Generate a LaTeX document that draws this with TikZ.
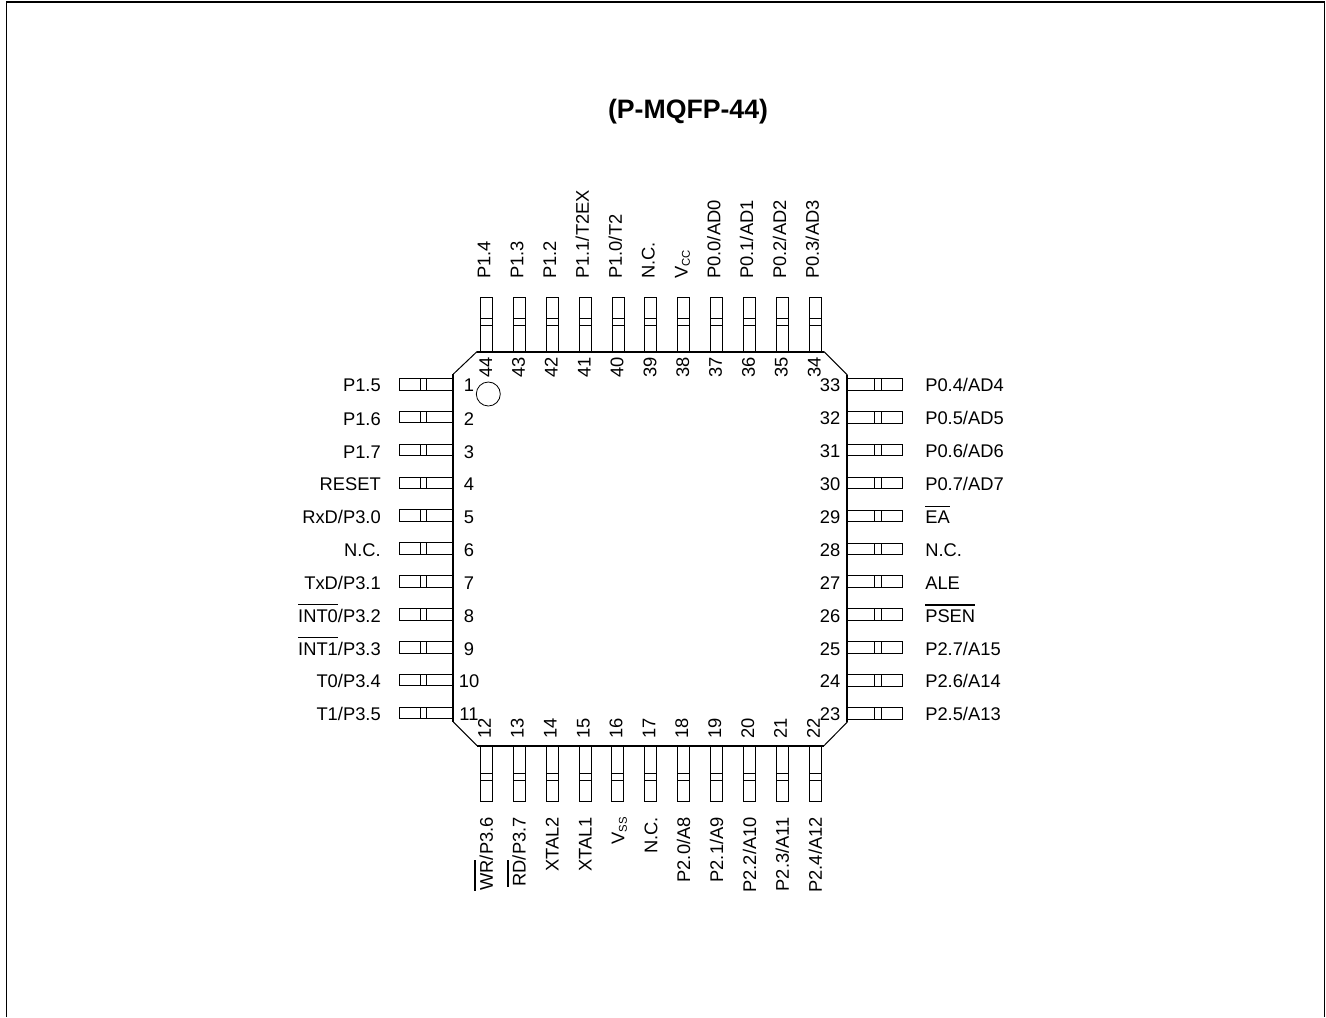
\documentclass[tikz,border=0pt]{standalone}
\usepackage{fontspec}
\setmainfont{Liberation Sans}
\newcommand{\ovl}[1]{\leavevmode\setbox0=\hbox{#1}\rlap{\rule[12.8pt]{\wd0}{1pt}}\box0 }
\newcommand{\subs}[2]{#1\raisebox{-0.25ex}{\fontsize{8.5}{9}\selectfont #2}}
\tikzset{
  pinbox/.style={draw=black,line width=0.75pt},
  body/.style={draw=black,line width=1.6pt},
  chamfer/.style={draw=black,line width=0.75pt},
  lbl/.style={inner sep=0pt,font=\fontsize{13.75}{16}\selectfont},
  numl/.style={lbl,anchor=base},
  leftl/.style={lbl,anchor=base east},
  rightl/.style={lbl,anchor=base west},
  topl/.style={lbl,rotate=90,anchor=base west},
  botl/.style={lbl,rotate=90,anchor=base east},
}
\begin{document}
\begin{tikzpicture}[x=0.75pt,y=-0.75pt]
\useasboundingbox (0,0) rectangle (1326,1017);
% frame
\draw[black,line width=1pt] (6.5,1017) -- (6.5,2) -- (1324.5,2) -- (1324.5,1017);
\node[inner sep=0pt,font=\fontsize{20}{22}\selectfont\bfseries] (title) at (688,112) {(P-MQFP-44)};
% package body
\draw[body] (477,351.6) -- (824,351.6);
\draw[body] (847.3,375) -- (847.3,722);
\draw[body] (824,745.7) -- (477,745.7);
\draw[body] (453.4,722) -- (453.4,374);
\draw[chamfer] (453.4,374) -- (477,351.6);
\draw[chamfer] (824,351.6) -- (847.3,375);
\draw[chamfer] (847.3,722) -- (824,745.7);
\draw[chamfer] (477,745.7) -- (453.4,722);
\node[draw=black,line width=0.6pt,circle,minimum size=18pt,inner sep=0pt] (dot) at (488.3,394) {};
% left side
\foreach \n/\t [count=\i from 0] in {1/P1.5,2/P1.6,3/P1.7,4/RESET,5/RxD\slash P3.0,6/N.C.,7/TxD\slash P3.1,8/\ovl{INT0}\slash P3.2,9/\ovl{INT1}\slash P3.3,10/T0\slash P3.4,11/T1\slash P3.5}{
  \pgfmathsetmacro{\yy}{384.3+32.87*\i}
  \pgfmathsetmacro{\dy}{(\n>=10||\n==1)?7.2:8}
  \draw[pinbox] (453.4,\yy-5.8) -- (399,\yy-5.8) -- (399,\yy+5.8) -- (453.4,\yy+5.8);
  \draw[pinbox] (420.7,\yy-5.8) -- (420.7,\yy+5.8) (426.3,\yy-5.8) -- (426.3,\yy+5.8);
  \node[leftl] (ll\n) at (381,\yy+\dy) {\t};
  \node[numl] (ln\n) at (469,\yy+\dy) {\n};
}
% right side
\foreach \n/\t [count=\i from 0] in {33/P0.4\slash AD4,32/P0.5\slash AD5,31/P0.6\slash AD6,30/P0.7\slash AD7,29/\ovl{EA},28/N.C.,27/ALE,26/\ovl{PSEN},25/P2.7\slash A15,24/P2.6\slash A14,23/P2.5\slash A13}{
  \pgfmathsetmacro{\yy}{384.3+32.9*\i}
  \pgfmathsetmacro{\dy}{(\n>=30||\n<=24)?7.2:8}
  \draw[pinbox] (847.3,\yy-5.8) -- (902.3,\yy-5.8) -- (902.3,\yy+5.8) -- (847.3,\yy+5.8);
  \draw[pinbox] (874.3,\yy-5.8) -- (874.3,\yy+5.8) (881.3,\yy-5.8) -- (881.3,\yy+5.8);
  \node[rightl] (rl\n) at (925,\yy+\dy) {\t};
  \node[numl] (rn\n) at (830,\yy+\dy) {\n};
}
% top side
\foreach \n/\t [count=\i from 0] in {44/P1.4,43/P1.3,42/P1.2,41/P1.1\slash T2EX,40/P1.0\slash T2,39/N.C.,38/\subs{V}{CC},37/P0.0\slash AD0,36/P0.1\slash AD1,35/P0.2\slash AD2,34/P0.3\slash AD3}{
  \pgfmathsetmacro{\xx}{486.7+32.85*\i}
  \draw[pinbox] (\xx-6,351.6) -- (\xx-6,297) -- (\xx+6,297) -- (\xx+6,351.6);
  \draw[pinbox] (\xx-6,318.3) -- (\xx+6,318.3) (\xx-6,325) -- (\xx+6,325);
  \node[topl] (tl\n) at (\xx+3.7,279) {\t};
  \node[lbl,rotate=90,anchor=base] (tn\n) at (\xx+5.3,367.5) {\n};
}
% bottom side
\foreach \n/\t [count=\i from 0] in {12/\ovl{WR}\slash P3.6,13/\ovl{RD}\slash P3.7,14/XTAL2,15/XTAL1,16/\subs{V}{SS},17/N.C.,18/P2.0\slash A8,19/P2.1\slash A9,20/P2.2\slash A10,21/P2.3\slash A11,22/P2.4\slash A12}{
  \pgfmathsetmacro{\xx}{486.3+32.9*\i}
  \draw[pinbox] (\xx-6,745.7) -- (\xx-6,801) -- (\xx+6,801) -- (\xx+6,745.7);
  \draw[pinbox] (\xx-6,773) -- (\xx+6,773) (\xx-6,780) -- (\xx+6,780);
  \node[botl] (bl\n) at (\xx+6.5,817) {\t};
  \node[lbl,rotate=90,anchor=base] (bn\n) at (\xx+4.5,728.5) {\n};
}
\end{tikzpicture}
\end{document}
